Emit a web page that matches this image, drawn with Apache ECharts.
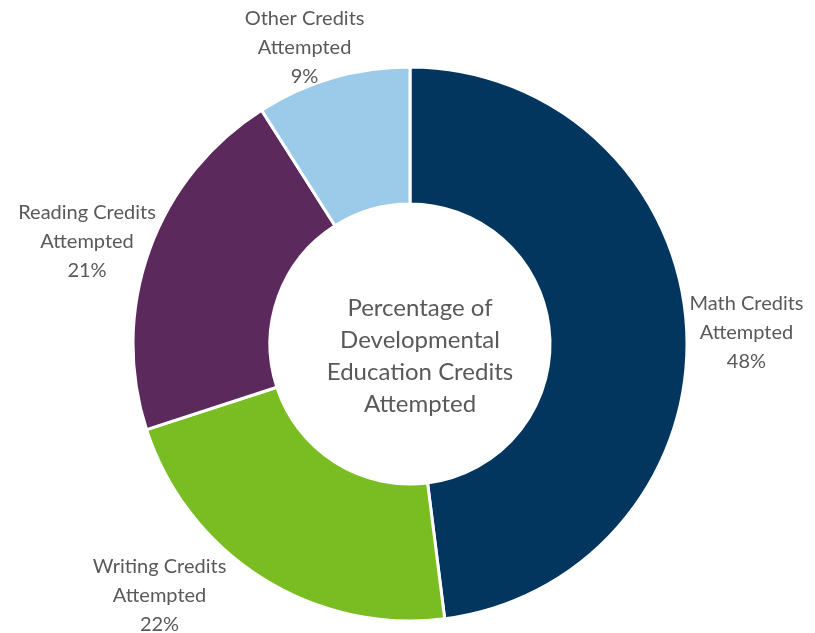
<!DOCTYPE html>
<html><head><meta charset="utf-8">
<script src="https://cdn.jsdelivr.net/npm/echarts@6/dist/echarts.min.js"></script>
<style>html,body{margin:0;padding:0;background:#fff}#c{width:815px;height:633px}</style>
</head><body><div id="c"></div>
<script>
const categories = ['Math Credits\nAttempted', 'Writing Credits\nAttempted', 'Reading Credits\nAttempted', 'Other Credits\nAttempted'];
const values = [48, 22, 21, 9];
const colors = ['#02365f', '#79bd22', '#5c295c', '#9ccbea'];
const centerTitle = 'Percentage of\nDevelopmental\nEducation Credits\nAttempted';
const labelShiftX = [-10, -26, 19, 39];
const labelShiftY = [6, 11, -6, -23];

const chart = echarts.init(document.getElementById('c'));
chart.setOption({
  animation: false,
  title: {
    text: centerTitle, left: 415, top: 351, textAlign: 'center', textVerticalAlign: 'middle',
    textStyle: {fontFamily: 'Lato', fontSize: 24, fontWeight: 'normal', color: '#595959', lineHeight: 32}
  },
  series: [{
    type: 'pie',
    center: [410, 344],
    radius: [140, 277],
    startAngle: 90,
    clockwise: true,
    data: categories.map((c, i) => ({name: c, value: values[i], itemStyle: {color: colors[i]}})),
    itemStyle: {borderColor: '#fff', borderWidth: 3},
    label: {
      show: true, position: 'outside', formatter: p => p.name + '\n' + p.value + '%',
      fontFamily: 'Lato', fontSize: 20, color: '#595959', lineHeight: 29, overflow: 'none'
    },
    labelLine: {show: false, length: 8, length2: 0},
    labelLayout: p => {
      const r = p.labelRect;
      return {
        x: r.x + r.width / 2 + labelShiftX[p.dataIndex],
        y: r.y + r.height / 2 + labelShiftY[p.dataIndex],
        align: 'center', verticalAlign: 'middle'
      };
    }
  }]
});
</script></body></html>
